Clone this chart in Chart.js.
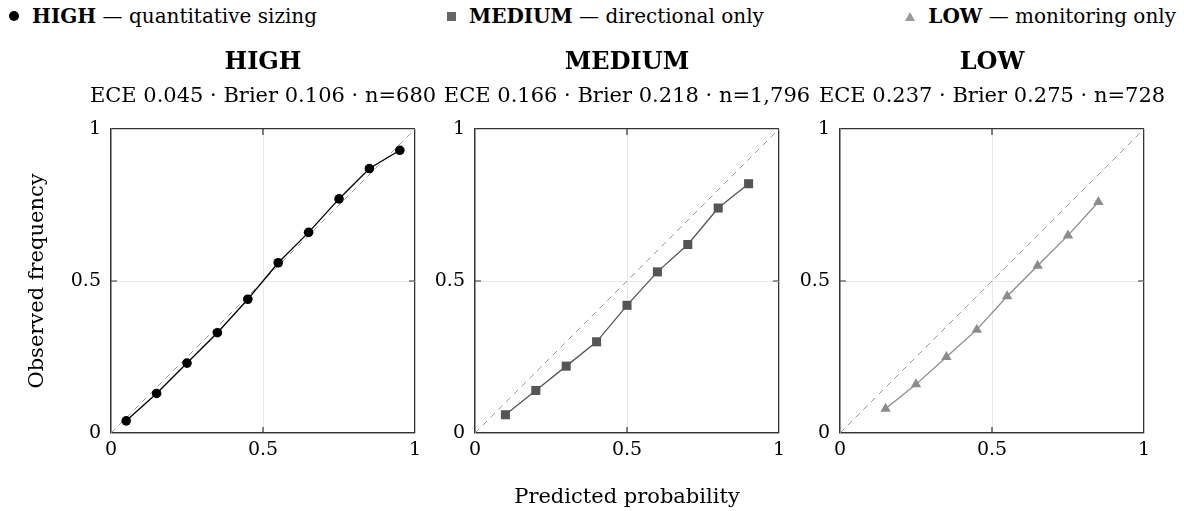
<!DOCTYPE html>
<html lang="en">
<head>
	<meta charset="UTF-8">
	<title>Calibration by confidence tier</title>
	<script src="https://cdn.jsdelivr.net/npm/chart.js"></script>
	<style>
		body { margin: 0; width: 1184px; height: 511px; overflow: hidden; background: #fff; font-family: 'DejaVu Serif', serif; }
		canvas { position: absolute; top: 48px; }
		.leg { position: absolute; top: 4px; font-size: 20px; line-height: 24px; white-space: nowrap; color: #000; display: flex; align-items: center; }
		.leg b { font-weight: bold; }
		.mk { display: inline-block; margin-right: 13px; }
	</style>
</head>
<body>
	<div class="leg" style="left:9px"><span class="mk" style="width:10px;height:10px;border-radius:50%;background:#000"></span><span><b>HIGH</b> — quantitative sizing</span></div>
	<div class="leg" style="left:447px"><span class="mk" style="width:9px;height:9px;background:#666"></span><span><b>MEDIUM</b> — directional only</span></div>
	<div class="leg" style="right:8px"><span class="mk" style="width:0;height:0;border-left:5px solid transparent;border-right:5px solid transparent;border-bottom:9px solid #999"></span><span><b>LOW</b> — monitoring only</span></div>

	<canvas id="c0" width="526" height="462" style="left:0px"></canvas>
	<canvas id="c1" width="526" height="462" style="left:364px"></canvas>
	<canvas id="c2" width="526" height="462" style="left:729px"></canvas>
<script>
	// predicted probability bins and observed frequencies, one pair per tier
	const highBins = [0.05, 0.15, 0.25, 0.35, 0.45, 0.55, 0.65, 0.75, 0.85, 0.95];
	const highObs = [0.04, 0.13, 0.23, 0.33, 0.44, 0.56, 0.66, 0.77, 0.87, 0.93];
	const medBins = [0.1, 0.2, 0.3, 0.4, 0.5, 0.6, 0.7, 0.8, 0.9];
	const medObs = [0.06, 0.14, 0.22, 0.30, 0.42, 0.53, 0.62, 0.74, 0.82];
	const lowBins = [0.15, 0.25, 0.35, 0.45, 0.55, 0.65, 0.75, 0.85];
	const lowObs = [0.08, 0.16, 0.25, 0.34, 0.45, 0.55, 0.65, 0.76];
	const diagonal = [0, 1];

	const tierNames = ['HIGH', 'MEDIUM', 'LOW'];
	const tierStats = [
		'ECE 0.045 · Brier 0.106 · n=680',
		'ECE 0.166 · Brier 0.218 · n=1,796',
		'ECE 0.237 · Brier 0.275 · n=728'
	];
	const tickValues = [0, 0.5, 1];
	const tickLabels = ['0', '0.5', '1'];

	const tiers = [
		{ bins: highBins, obs: highObs, color: '#000000', shape: 'circle', radius: 4.8 },
		{ bins: medBins, obs: medObs, color: '#555555', shape: 'rect', radius: 6.4 },
		{ bins: lowBins, obs: lowObs, color: '#8c8c8c', shape: 'triangle', radius: 6 }
	];

	const serif = 'DejaVu Serif';

	// short dark tick marks on the inside of the box at 0.5
	const innerTicks = {
		id: 'innerTicks',
		afterDraw(chart) {
			const { ctx, chartArea: a, scales } = chart;
			ctx.save();
			ctx.strokeStyle = '#333';
			ctx.lineWidth = 1.2;
			const len = 6;
			const px = scales.x.getPixelForValue(0.5);
			const py = scales.y.getPixelForValue(0.5);
			ctx.beginPath();
			ctx.moveTo(px, a.bottom); ctx.lineTo(px, a.bottom - len);
			ctx.moveTo(px, a.top); ctx.lineTo(px, a.top + len);
			ctx.moveTo(a.left, py); ctx.lineTo(a.left + len, py);
			ctx.moveTo(a.right, py); ctx.lineTo(a.right - len, py);
			ctx.stroke();
			ctx.restore();
		}
	};

	function gridColor(c) {
		return c.tick && c.tick.value === 0.5 ? '#e8e8e8' : '#333333';
	}
	function gridWidth(c) {
		return c.tick && c.tick.value === 0.5 ? 1 : 1.3;
	}
	function fixTicks(s) {
		s.ticks = tickValues.map(v => ({ value: v }));
	}
	function tickText(v) {
		return tickLabels[tickValues.indexOf(v)];
	}

	tiers.forEach((t, i) => {
		const ctx = document.getElementById('c' + i).getContext('2d');
		new Chart(ctx, {
			type: 'line',
			data: {
				datasets: [
					{
						data: t.bins.map((b, k) => ({ x: b, y: t.obs[k] })),
						borderColor: t.color,
						backgroundColor: t.color,
						borderWidth: 1.3,
						pointStyle: t.shape,
						pointRadius: t.radius,
						pointBorderWidth: 0,
						pointBackgroundColor: t.color,
						order: 0
					},
					{
						data: diagonal.map(d => ({ x: d, y: d })),
						borderColor: '#999999',
						borderWidth: 1,
						borderDash: [6, 5],
						pointRadius: 0,
						order: 1
					}
				]
			},
			options: {
				responsive: false,
				animation: false,
				devicePixelRatio: 1,
				layout: { padding: 0 },
				plugins: {
					legend: { display: false },
					tooltip: { enabled: false },
					title: {
						display: true,
						text: tierNames[i],
						color: '#000',
						font: { family: serif, size: 24, weight: 'bold', lineHeight: 1.2 },
						padding: { top: 0, bottom: 7.6 }
					},
					subtitle: {
						display: true,
						text: tierStats[i],
						color: '#000',
						font: { family: serif, size: 21, lineHeight: 1.2 },
						padding: { top: 0, bottom: 19.4 }
					}
				},
				scales: {
					x: {
						type: 'linear',
						min: 0,
						max: 1,
						afterBuildTicks: fixTicks,
						afterFit: s => { s.height = 77; },
						ticks: { color: '#000', padding: 6, font: { family: serif, size: 19 }, callback: tickText },
						grid: { color: gridColor, lineWidth: gridWidth, drawTicks: false },
						border: { color: '#333', width: 1.3 },
						title: {
							display: i === 1,
							text: 'Predicted probability',
							color: '#000',
							font: { family: serif, size: 21, lineHeight: 1.2 },
							padding: { top: 0, bottom: 0 }
						}
					},
					y: {
						type: 'linear',
						min: 0,
						max: 1,
						afterBuildTicks: fixTicks,
						afterFit: s => { s.width = 111; },
						ticks: { color: '#000', padding: 10, font: { family: serif, size: 19 }, callback: tickText },
						grid: { color: gridColor, lineWidth: gridWidth, drawTicks: false },
						border: { color: '#333', width: 1.3 },
						title: {
							display: i === 0,
							text: 'Observed frequency',
							color: '#000',
							font: { family: serif, size: 21, lineHeight: 1.2 },
							padding: { top: 25 }
						}
					},
					// empty right-hand axis that keeps the plot box centred under its titles
					spacer: {
						type: 'linear',
						position: 'right',
						afterFit: s => { s.width = 111; },
						ticks: { display: false },
						grid: { display: false },
						border: { display: false }
					}
				}
			},
			plugins: [innerTicks]
		});
	});
</script>
</body>
</html>
